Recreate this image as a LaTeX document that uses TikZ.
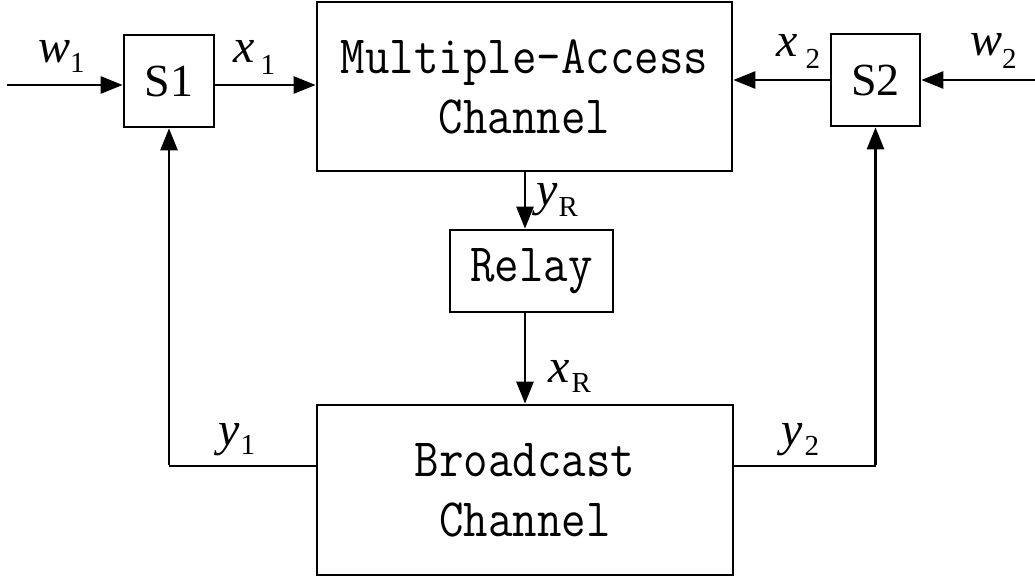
\documentclass[tikz,border=0pt]{standalone}
\usepackage{fontspec}
\setmainfont{Liberation Serif}
\newfontfamily\boxfont[FakeStretch=0.88]{Latin Modern Mono}
\usetikzlibrary{arrows.meta}

% italic symbol with an upright, lowered subscript
\newcommand\symsub[4]{{\fontsize{48}{48}\selectfont\itshape #1}\kern#3pt\raisebox{-#4pt}{\fontsize{29}{29}\selectfont #2}}

\tikzset{
  blk/.style={draw, line width=2.7pt, inner sep=0pt, align=center},
  bigbox/.style={blk, font=\boxfont\fontsize{54}{60}\selectfont},
  srcbox/.style={blk, font=\fontsize{46}{46}\selectfont},
  arr/.style={line width=2.7pt, -{Triangle[length=22pt,width=17pt]}},
  wire/.style={line width=2.7pt},
  lbl/.style={anchor=base west, inner sep=0pt}
}

\begin{document}
\begin{tikzpicture}[x=1pt,y=-1pt]
  \useasboundingbox (0,0) rectangle (1035,577);

  % blocks
  \node[srcbox, minimum width=90pt, minimum height=92pt] (S1) at (169,81) {S1};
  \node[srcbox, minimum width=89pt, minimum height=92pt] (S2) at (875.5,80) {S2};
  \node[bigbox, minimum width=415pt, minimum height=169pt] (MAC) at (524.5,86.5) {Multiple-Access\\Channel};
  \node[bigbox, minimum width=163pt, minimum height=82pt] (Relay) at (531.5,271) {Relay};
  \node[bigbox, minimum width=416pt, minimum height=170pt] (BC) at (525,490) {Broadcast\\Channel};

  % free ends of the input wires
  \coordinate (in1) at (7,85);
  \coordinate (in2) at (1035,80);

  % sources into the multiple-access channel
  \draw[arr] (in1) -- (in1 -| S1.west);
  \draw[arr] (S1.east |- in1) -- (in1 -| MAC.west);
  \draw[arr] (in2) -- (S2.east);
  \draw[arr] (S2.west) -- (S2.west -| MAC.east);

  % relay path
  \coordinate (relx) at (525,0);
  \draw[arr] (relx |- MAC.south) -- (relx |- Relay.north);
  \draw[arr] (relx |- Relay.south) -- (relx |- BC.north);

  % feedback from the broadcast channel
  \coordinate (fb) at (0,466);
  \draw[wire] (fb -| BC.west) -- (fb -| S1.south);
  \draw[arr] ([yshift=1.35pt]fb -| S1.south) -- (S1.south);
  \draw[wire] (fb -| BC.east) -- (fb -| S2.south);
  \draw[arr] ([yshift=1.35pt]fb -| S2.south) -- (S2.south);

  % signal labels
  \node[lbl] (lw1) at (38,63) {\symsub{w}{1}{0}{10}};
  \node[lbl] (lx1) at (233,63) {\symsub{x}{1}{6}{12}};
  \node[lbl] (lx2) at (776,57) {\symsub{x}{2}{8}{12}};
  \node[lbl] (lw2) at (970,56) {\symsub{w}{2}{0}{13}};
  \node[lbl] (lyR) at (536,206) {\symsub{y}{R}{1}{11}};
  \node[lbl] (lxR) at (548,382) {\symsub{x}{R}{2}{10}};
  \node[lbl] (ly1) at (218,445) {\symsub{y}{1}{1}{9}};
  \node[lbl] (ly2) at (781,445) {\symsub{y}{2}{2}{10}};
\end{tikzpicture}
\end{document}
